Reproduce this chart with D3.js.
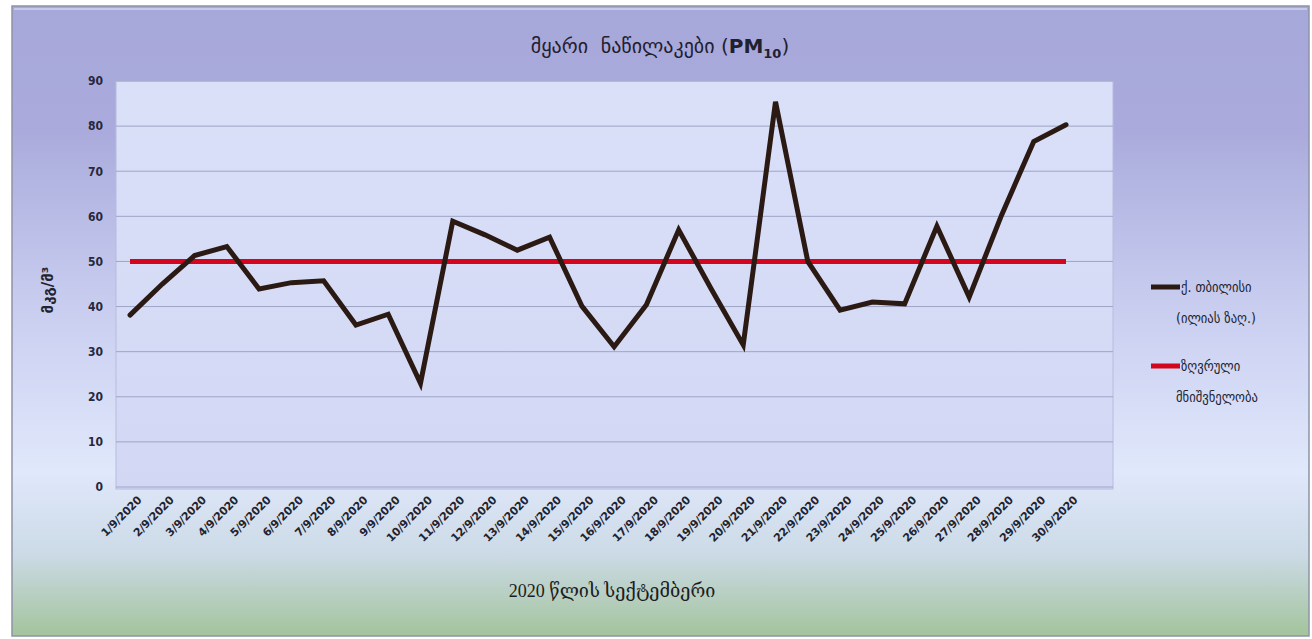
<!DOCTYPE html>
<html>
<head>
<meta charset="utf-8">
<script src="https://cdn.jsdelivr.net/npm/d3@7"></script>
<style>
  html, body { margin: 0; padding: 0; background: #ffffff; }
  svg { display: block; }
  .title { white-space: pre; }
</style>
</head>
<body>
<svg id="chart" width="1312" height="639"></svg>
<script>
// Daily PM10 concentration, Tbilisi (Ilia Chavchavadze ave.), September 2020
const dates = [
  "1/9/2020","2/9/2020","3/9/2020","4/9/2020","5/9/2020","6/9/2020","7/9/2020","8/9/2020","9/9/2020","10/9/2020",
  "11/9/2020","12/9/2020","13/9/2020","14/9/2020","15/9/2020","16/9/2020","17/9/2020","18/9/2020","19/9/2020","20/9/2020",
  "21/9/2020","22/9/2020","23/9/2020","24/9/2020","25/9/2020","26/9/2020","27/9/2020","28/9/2020","29/9/2020","30/9/2020"
];
const pm10 = [
  38.1, 45.0, 51.3, 53.3, 43.9, 45.3, 45.7, 35.9, 38.3, 23.0,
  58.9, 55.9, 52.5, 55.4, 40.1, 31.1, 40.4, 57.0, 44.0, 31.5,
  85.4, 50.0, 39.2, 41.0, 40.6, 57.8, 42.1, 60.2, 76.6, 80.3
];
// Permissible limit value
const limit = dates.map(() => 50);
const yTicks = [0, 10, 20, 30, 40, 50, 60, 70, 80, 90];

const svg = d3.select("#chart");
const W = 1312, H = 639;
const defs = svg.append("defs");

// Outer chart background: lavender at the top, pale blue, then sage green at the bottom
const bg = defs.append("linearGradient").attr("id", "bgGrad")
  .attr("x1", 0).attr("y1", 0).attr("x2", 0).attr("y2", 1);
bg.append("stop").attr("offset", "0%").attr("stop-color", "#a7a8da");
bg.append("stop").attr("offset", "20%").attr("stop-color", "#aaabdc");
bg.append("stop").attr("offset", "48%").attr("stop-color", "#c9cef0");
bg.append("stop").attr("offset", "74%").attr("stop-color", "#e0e8fb");
bg.append("stop").attr("offset", "87%").attr("stop-color", "#ccdae6");
bg.append("stop").attr("offset", "100%").attr("stop-color", "#a3c49c");

const plotGrad = defs.append("linearGradient").attr("id", "plotGrad")
  .attr("x1", 0).attr("y1", 0).attr("x2", 0).attr("y2", 1);
plotGrad.append("stop").attr("offset", "0%").attr("stop-color", "#dae0f8");
plotGrad.append("stop").attr("offset", "100%").attr("stop-color", "#d2d8f4");

svg.append("rect").attr("x", 0).attr("y", 0).attr("width", W).attr("height", H).attr("fill", "#ffffff");
svg.append("rect")
  .attr("x", 12).attr("y", 6).attr("width", 1297).attr("height", 630)
  .attr("fill", "url(#bgGrad)")
  .attr("stroke", "#8e93a6").attr("stroke-width", 1.5);
// light inner highlight along the top edge
svg.append("line").attr("x1", 14).attr("x2", 1307).attr("y1", 9).attr("y2", 9)
  .attr("stroke", "#c6c8ec").attr("stroke-width", 2);

const plot = { left: 116, right: 1113, top: 81, bottom: 489 };

svg.append("rect")
  .attr("x", plot.left).attr("y", plot.top)
  .attr("width", plot.right - plot.left).attr("height", plot.bottom - plot.top)
  .attr("fill", "url(#plotGrad)")
  .attr("stroke", "#b6bcdc").attr("stroke-width", 1);

const x = d3.scalePoint().domain(dates).range([130, 1066]);
const y = d3.scaleLinear().domain([0, 90]).range([487, 81]);

// Horizontal gridlines
svg.append("g")
  .selectAll("line")
  .data(yTicks)
  .join("line")
  .attr("x1", plot.left).attr("x2", plot.right)
  .attr("y1", d => y(d)).attr("y2", d => y(d))
  .attr("stroke", "#9ea4c6").attr("stroke-width", 1);

// Y axis labels
const yAxis = d3.axisLeft(y).tickValues(yTicks).tickSize(0).tickPadding(0);
const gy = svg.append("g").attr("transform", `translate(103,0)`).call(yAxis);
gy.select(".domain").remove();
gy.selectAll("text")
  .attr("font-family", "'DejaVu Sans Condensed', 'DejaVu Sans', sans-serif")
  .attr("font-weight", "bold")
  .attr("font-size", 12)
  .attr("fill", "#27283a");

// X axis labels (rotated)
const xAxis = d3.axisBottom(x).tickSize(0).tickPadding(0);
const gx = svg.append("g").attr("transform", `translate(0,${plot.bottom + 9})`).call(xAxis);
gx.select(".domain").remove();
gx.selectAll("text")
  .attr("font-family", "'DejaVu Sans', sans-serif")
  .attr("font-weight", "bold")
  .attr("font-size", 11)
  .attr("letter-spacing", "-0.3")
  .attr("fill", "#22232f")
  .attr("text-anchor", "end")
  .attr("dy", "0.35em")
  .attr("transform", "translate(9,0) rotate(-45)");

// Limit line
const lineGen = d3.line().x((d, i) => x(dates[i])).y(d => y(d));
svg.append("path")
  .datum(limit)
  .attr("d", lineGen)
  .attr("fill", "none")
  .attr("stroke", "#d3061d")
  .attr("stroke-width", 5);

// PM10 series
svg.append("path")
  .datum(pm10)
  .attr("d", lineGen)
  .attr("fill", "none")
  .attr("stroke", "#2b1a13")
  .attr("stroke-width", 5)
  .attr("stroke-linejoin", "miter")
  .attr("stroke-linecap", "round");

// Title
const title = svg.append("text")
  .attr("class", "title")
  .attr("x", 660).attr("y", 53)
  .attr("text-anchor", "middle")
  .attr("font-family", "'DejaVu Sans', sans-serif")
  .attr("font-size", 20)
  .attr("fill", "#1f2030");
title.append("tspan").text("მყარი  ნაწილაკები (");
title.append("tspan").attr("font-weight", "bold").text("PM");
title.append("tspan").attr("font-weight", "bold").attr("font-size", 13).attr("dy", 5).text("10");
title.append("tspan").attr("dy", -5).text(")");

// Y axis title
svg.append("text")
  .attr("transform", "translate(53,290) rotate(-90)")
  .attr("text-anchor", "middle")
  .attr("font-family", "'DejaVu Sans', sans-serif")
  .attr("font-weight", "bold")
  .attr("font-size", 15)
  .attr("fill", "#22232f")
  .text("მკგ/მ³");

// X axis title
svg.append("text")
  .attr("x", 612).attr("y", 597)
  .attr("text-anchor", "middle")
  .attr("font-family", "'Liberation Serif', 'DejaVu Serif', serif")
  .attr("font-size", 18)
  .attr("fill", "#1c1c24")
  .text("2020 წლის სექტემბერი");

// Legend
const legend = [
  { color: "#2b1a13", lines: ["ქ. თბილისი", "(ილიას ზაღ.)"], y: 287 },
  { color: "#d3061d", lines: ["ზღვრული", "მნიშვნელობა"], y: 366 }
];
const lg = svg.append("g");
legend.forEach(item => {
  lg.append("line")
    .attr("x1", 1151).attr("x2", 1180)
    .attr("y1", item.y).attr("y2", item.y)
    .attr("stroke", item.color).attr("stroke-width", 5);
  const t = lg.append("text")
    .attr("x", 1181).attr("y", item.y + 5)
    .attr("font-family", "'DejaVu Sans Condensed', 'DejaVu Sans', sans-serif")
    .attr("font-size", 14)
    .attr("fill", "#22232f");
  item.lines.forEach((s, i) => {
    t.append("tspan").attr("x", i === 0 ? 1181 : 1176).attr("dy", i === 0 ? 0 : 31).text(s);
  });
});
</script>
</body>
</html>
